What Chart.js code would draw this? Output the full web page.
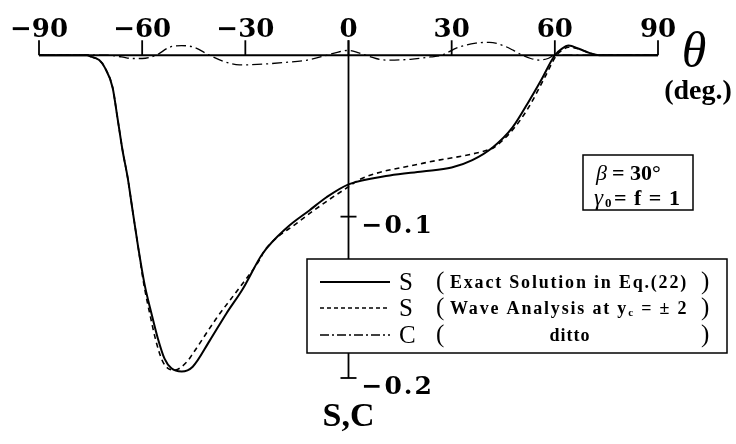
<!doctype html>
<html>
  <head>
    <title>S, C vs theta</title>
    <script src="https://cdn.jsdelivr.net/npm/chart.js@4.4.1/dist/chart.umd.min.js"></script>
    <style>
    body { margin: 0; background: #fff; }
    #wrap { width: 736px; height: 444px; }
    </style>
  </head>

  <body>
    <div id="wrap">
      <canvas id="canvas" width="736" height="444"></canvas>
    </div>

    <script>
      // theta (deg.) and values
      const thetaExact = [-90, -80, -76, -74.7, -72.5, -70.9, -68.6, -67.2, -65.7, -64.2, -62.8, -61.3, -59.3, -57.3, -55.5, -53.5, -51.5, -48.5, -45.3, -40.4, -35.5, -30.8, -25, -18, -11.3, -6.4, 0, 12, 21.5, 30, 36, 42, 47.7, 52.6, 56, 60, 62, 64, 67, 70, 73, 80, 90];
      const sExact = [0, 0, 0, -0.001, -0.003, -0.0075, -0.020, -0.0385, -0.059, -0.076, -0.096, -0.117, -0.142, -0.160, -0.175, -0.188, -0.194, -0.196, -0.193, -0.177, -0.160, -0.145, -0.123, -0.107, -0.096, -0.088, -0.080, -0.0745, -0.072, -0.0696, -0.065, -0.057, -0.0447, -0.028, -0.0155, 0, 0.004, 0.006, 0.004, 0.0015, 0, 0, 0];

      const thetaWave = [-90, -80, -76, -74.7, -72.5, -70.9, -68.6, -67.2, -65.7, -64.2, -62.8, -61.3, -59.5, -57.7, -56, -54.2, -52.5, -50.5, -47, -45.3, -38.4, -31.7, -25.9, -24.4, -15, -6, 0, 3.2, 21.5, 40, 42.4, 47, 50, 53, 57, 60.5, 62, 64, 67, 70, 73, 80, 90];
      const sWave = [0, 0, 0, -0.001, -0.003, -0.0075, -0.020, -0.0385, -0.059, -0.076, -0.096, -0.117, -0.142, -0.161, -0.177, -0.189, -0.194, -0.195, -0.190, -0.185, -0.163, -0.144, -0.127, -0.121, -0.104, -0.090, -0.0815, -0.077, -0.067, -0.059, -0.057, -0.048, -0.040, -0.030, -0.014, 0, 0.003, 0.005, 0.004, 0.0015, 0, 0, 0];

      const thetaC = [-90, -70, -66, -63, -60, -56, -52, -48.5, -45, -40.4, -36, -31.7, -25, -19, -12, -6.4, -3, 0, 3, 5, 8, 11, 18, 24, 27, 32, 37, 41, 45, 48, 50.6, 53, 55.5, 58, 60, 65, 90];
      const cWave = [0, 0, -0.001, -0.002, -0.002, 0, 0.005, 0.006, 0.005, 0, -0.004, -0.006, -0.0055, -0.0045, -0.003, 0, 0.002, 0.003, 0.0015, 0, -0.002, -0.003, -0.0025, -0.001, 0, 0.005, 0.0075, 0.008, 0.006, 0.003, 0, -0.002, -0.003, -0.002, 0, 0, 0];

      const xTicks = [-90, -60, -30, 0, 30, 60, 90];
      const xTickLabels = ['\u221290', '\u221260', '\u221230', '0', '30', '60', '90'];
      const yTicks = [-0.1, -0.2];
      const yTickLabels = ['\u22120.1', '\u22120.2'];

      const legendRows = [
        { head: 'S', text: 'Exact Solution in Eq.(22)', dash: [] },
        { head: 'S', text: 'Wave Analysis at y', sub: 'c', tail: ' = \u00b1 2', dash: [4, 3] },
        { head: 'C', text: 'ditto', dash: [9, 3, 2, 3], center: true }
      ];

      function pts(xs, ys) {
        return xs.map((x, i) => ({ x: x, y: ys[i] }));
      }

      const axesPlugin = {
        id: 'paperAxes',
        beforeDatasetsDraw(chart) {
          const ctx = chart.ctx;
          const xs = chart.scales.x, ys = chart.scales.y;
          const y0 = ys.getPixelForValue(0);
          const x0 = xs.getPixelForValue(0);
          ctx.save();
          ctx.strokeStyle = '#000';
          ctx.lineWidth = 2;
          // horizontal axis along S = 0
          ctx.beginPath();
          ctx.moveTo(xs.getPixelForValue(-90), y0);
          ctx.lineTo(xs.getPixelForValue(90), y0);
          ctx.stroke();
          ctx.lineWidth = 1.8;
          xTicks.forEach(t => {
            const px = xs.getPixelForValue(t);
            ctx.beginPath();
            ctx.moveTo(px, y0);
            ctx.lineTo(px, y0 - 15);
            ctx.stroke();
          });
          // vertical axis at theta = 0
          ctx.beginPath();
          ctx.moveTo(x0, y0 - 15);
          ctx.lineTo(x0, ys.getPixelForValue(-0.2));
          ctx.stroke();
          yTicks.forEach(v => {
            const py = ys.getPixelForValue(v);
            ctx.beginPath();
            ctx.moveTo(x0 - 8, py);
            ctx.lineTo(x0 + 8, py);
            ctx.stroke();
          });

          ctx.fillStyle = '#000';
          ctx.font = 'bold 26px "DejaVu Serif"';
          ctx.textAlign = 'center';
          ctx.textBaseline = 'alphabetic';
          xTicks.forEach((t, i) => {
            ctx.fillText(xTickLabels[i], xs.getPixelForValue(t), y0 - 18);
          });
          ctx.font = 'bold 25px "DejaVu Serif"';
          ctx.textAlign = 'left';
          ctx.letterSpacing = '2px';
          yTicks.forEach((v, i) => {
            ctx.fillText(yTickLabels[i], x0 + 13, ys.getPixelForValue(v) + 16);
          });
          ctx.letterSpacing = '0px';

          // axis titles
          ctx.textAlign = 'center';
          ctx.font = 'italic 50px "Liberation Serif"';
          ctx.fillText('\u03b8', 694, 67);
          ctx.font = 'bold 28px "Liberation Serif"';
          ctx.fillText('(deg.)', 698, 99);
          ctx.font = 'bold 34px "Liberation Serif"';
          ctx.fillText('S,C', x0, 426);
          ctx.restore();
        },
        afterDatasetsDraw(chart) {
          const ctx = chart.ctx;
          ctx.save();
          ctx.fillStyle = '#000';
          ctx.strokeStyle = '#000';

          // parameter box
          ctx.lineWidth = 1.5;
          ctx.strokeRect(583, 155, 110, 55);
          ctx.textAlign = 'left';
          ctx.textBaseline = 'alphabetic';
          ctx.font = 'italic 22px "Liberation Serif"';
          ctx.fillText('\u03b2', 596, 180);
          ctx.font = 'bold 22px "Liberation Serif"';
          ctx.fillText('= 30\u00b0', 612, 180);
          ctx.font = 'italic 23px "Liberation Serif"';
          ctx.fillText('\u03b3', 594, 205);
          ctx.font = 'bold 13px "Liberation Serif"';
          ctx.fillText('0', 605, 207);
          ctx.font = 'bold 22px "Liberation Serif"';
          ctx.letterSpacing = '1px';
          ctx.fillText('= f = 1', 614, 205);
          ctx.letterSpacing = '0px';

          // legend box
          ctx.fillStyle = '#fff';
          ctx.fillRect(307, 259, 420, 94);
          ctx.fillStyle = '#000';
          ctx.strokeRect(307, 259, 420, 94);
          const rowY = [282, 308, 335];
          legendRows.forEach((r, i) => {
            const y = rowY[i];
            ctx.lineWidth = i === 0 ? 1.8 : 1.4;
            ctx.setLineDash(r.dash);
            ctx.beginPath();
            ctx.moveTo(320, y);
            ctx.lineTo(390, y);
            ctx.stroke();
            ctx.setLineDash([]);
            ctx.textBaseline = 'middle';
            ctx.textAlign = 'left';
            ctx.font = '25px "Liberation Serif"';
            ctx.fillText(r.head, 399, y + 1);
            ctx.fillText('(', 436, y);
            ctx.fillText(')', 701, y);
            ctx.font = 'bold 18px "Liberation Serif"';
            if (r.center) {
              ctx.textAlign = 'center';
              ctx.letterSpacing = '1px';
              ctx.fillText(r.text, 570, y + 1);
              ctx.letterSpacing = '0px';
            } else {
              const full = r.text + (r.sub ? ' ' : '') + (r.tail || '');
              const w = ctx.measureText(full).width;
              const sp = (238 - w) / full.length;
              ctx.letterSpacing = sp + 'px';
              ctx.fillText(r.text, 450, y + 1);
              let x = 450 + ctx.measureText(r.text).width;
              if (r.sub) {
                ctx.font = 'bold 11px "Liberation Serif"';
                ctx.fillText(r.sub, x, y + 5);
                x += ctx.measureText(r.sub).width;
                ctx.font = 'bold 18px "Liberation Serif"';
                ctx.fillText(r.tail, x, y + 1);
              }
              ctx.letterSpacing = '0px';
            }
          });
          ctx.restore();
        }
      };

      const config = {
        type: 'line',
        data: {
          datasets: [
            {
              label: 'S (Exact Solution in Eq.(22))',
              data: pts(thetaExact, sExact),
              borderColor: '#000',
              borderWidth: 2,
              pointRadius: 0,
              cubicInterpolationMode: 'monotone',
              fill: false
            },
            {
              label: 'S (Wave Analysis at yc = \u00b12)',
              data: pts(thetaWave, sWave),
              borderColor: '#000',
              borderWidth: 1.6,
              borderDash: [5, 4],
              pointRadius: 0,
              cubicInterpolationMode: 'monotone',
              fill: false
            },
            {
              label: 'C (ditto)',
              data: pts(thetaC, cWave),
              borderColor: '#000',
              borderWidth: 1.3,
              borderDash: [10, 4, 2, 4],
              pointRadius: 0,
              cubicInterpolationMode: 'monotone',
              fill: false
            }
          ]
        },
        options: {
          responsive: false,
          animation: false,
          layout: { padding: { left: 39, right: 78, top: 23, bottom: 66 } },
          plugins: { legend: { display: false }, tooltip: { enabled: false } },
          scales: {
            x: { type: 'linear', min: -90, max: 90, display: false },
            y: { min: -0.2, max: 0.02, display: false }
          }
        },
        plugins: [axesPlugin]
      };

      window.onload = function() {
        let ctx = document.getElementById('canvas').getContext('2d');
        window.myLine = new Chart(ctx, config);
      };
    </script>
  </body>
</html>
